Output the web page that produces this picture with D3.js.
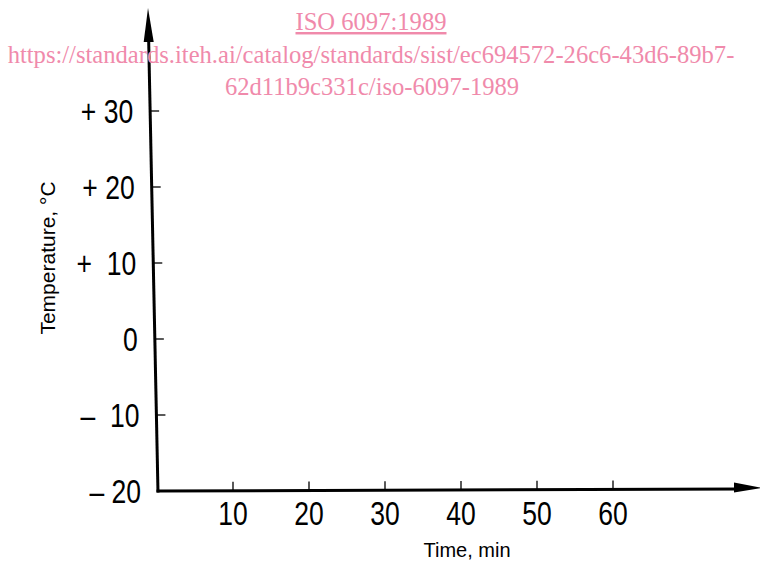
<!DOCTYPE html>
<html><head><meta charset="utf-8">
<script src="https://cdn.jsdelivr.net/npm/d3@7"></script>
<style>
html,body{margin:0;padding:0;background:#fff;}
svg{display:block;}
</style></head>
<body>
<svg id="chart" width="760" height="563"></svg>
<script>
// ---- data ----
const xTickValues = [10, 20, 30, 40, 50, 60];
const xTickLabels = ["10", "20", "30", "40", "50", "60"];
const yTickValues = [-20, -10, 0, 10, 20, 30];
const yTickLabels = ["\u2013 20", "\u2013  10", "0", "+  10", "+ 20", "+ 30"];
const xDomain = [0, 60];
const yDomain = [-20, 30];
const xTitle = "Time, min";
const yTitle = "Temperature, \u00B0C";
const watermark = ["ISO 6097:1989",
  "https://standards.iteh.ai/catalog/standards/sist/ec694572-26c6-43d6-89b7-",
  "62d11b9c331c/iso-6097-1989"];

const svg = d3.select("#chart");
const x = d3.scaleLinear().domain(xDomain).range([157, 613]);
const y = d3.scaleLinear().domain(yDomain).range([491, 111]);
const tickFont = "'Liberation Sans',Arial,sans-serif";
const squeeze = 0.78;

// slight lean of the scanned vertical axis
const yBottom = y(yDomain[0]);
const axisTop = 8;
const lean = 10 / (yBottom - axisTop);
const axisXAt = py => x(0) + 1 - (yBottom - py) * lean;

// y axis line + arrow
svg.append("line")
  .attr("x1", axisXAt(yBottom)).attr("y1", yBottom + 1.5)
  .attr("x2", axisXAt(axisTop + 20)).attr("y2", axisTop + 20)
  .attr("stroke", "#000").attr("stroke-width", 3);
svg.append("path")
  .attr("d", `M${axisXAt(axisTop)},${axisTop} L${axisXAt(axisTop + 34) - 5},${axisTop + 34} L${axisXAt(axisTop + 34) + 5},${axisTop + 34} Z`)
  .attr("fill", "#000");

// x axis line + arrow
const xEnd = 762;
svg.append("line")
  .attr("x1", axisXAt(yBottom) - 1.5).attr("y1", yBottom)
  .attr("x2", xEnd - 20).attr("y2", yBottom - 2)
  .attr("stroke", "#000").attr("stroke-width", 3);
svg.append("path")
  .attr("d", `M${xEnd},${yBottom - 3} L${xEnd - 28},${yBottom - 8.5} L${xEnd - 28},${yBottom + 1.5} Z`)
  .attr("fill", "#000");

// y ticks
const yt = svg.append("g");
yTickValues.forEach((v, i) => {
  const py = y(v);
  if (i > 0) {
    yt.append("line")
      .attr("x1", axisXAt(py)).attr("x2", axisXAt(py) + 9)
      .attr("y1", py).attr("y2", py)
      .attr("stroke", "#000").attr("stroke-width", 1.3);
  }
  yt.append("text")
    .attr("transform", `translate(${axisXAt(py) - 17},${py + 12}) scale(${squeeze},1)`)
    .attr("text-anchor", "end")
    .attr("font-family", tickFont).attr("font-size", 34)
    .style("white-space", "pre")
    .attr("fill", "#000")
    .text(yTickLabels[i]);
});

// x ticks
const xt = svg.append("g");
xTickValues.forEach((v, i) => {
  const px = x(v);
  const py = yBottom - (px - x(0)) * (2 / (xEnd - x(0)));
  xt.append("line")
    .attr("x1", px).attr("x2", px)
    .attr("y1", py).attr("y2", py - 9)
    .attr("stroke", "#000").attr("stroke-width", 1.3);
  xt.append("text")
    .attr("transform", `translate(${px},525) scale(${squeeze},1)`)
    .attr("text-anchor", "middle")
    .attr("font-family", tickFont).attr("font-size", 34)
    .attr("fill", "#000")
    .text(xTickLabels[i]);
});

// axis titles
svg.append("text")
  .attr("x", 467).attr("y", 557)
  .attr("text-anchor", "middle")
  .attr("font-family", "'Liberation Sans',Arial,sans-serif").attr("font-size", 20)
  .attr("fill", "#000").text(xTitle);
svg.append("text")
  .attr("transform", "translate(55,258) rotate(-90)")
  .attr("text-anchor", "middle")
  .attr("font-family", "'Liberation Sans',Arial,sans-serif").attr("font-size", 21)
  .attr("fill", "#000").text(yTitle);

// watermark
const pink = "#f08aab";
const wm = svg.append("g").attr("font-family", "'Liberation Serif','Times New Roman',serif")
  .attr("font-size", 24.6).attr("fill", pink).attr("text-anchor", "middle");
wm.append("text").attr("x", 371).attr("y", 30).attr("text-decoration", "underline").text(watermark[0]);
wm.append("text").attr("x", 371).attr("y", 63).text(watermark[1]);
wm.append("text").attr("x", 372).attr("y", 95).text(watermark[2]);
</script>
</body></html>
